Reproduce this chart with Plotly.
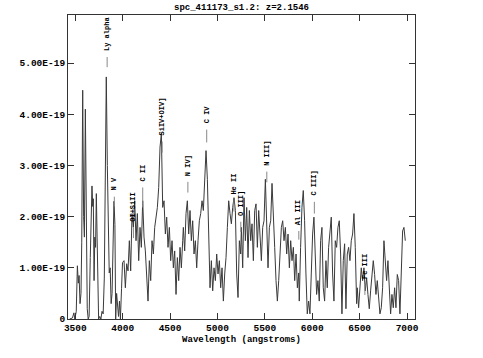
import numpy as np
import plotly.graph_objects as go

# ---------------- data ----------------
z = 2.1546
title_text = "spc_411173_s1.2: z=2.1546"

# flux in units of 1e-19
wave_a = [3440, 3470, 3485, 3495, 3510, 3522, 3532, 3540, 3550, 3560, 3568, 3578, 3588, 3596, 3606,
          3616, 3626, 3636, 3646, 3658, 3668, 3676, 3684, 3690, 3698, 3706, 3714, 3722, 3730, 3738,
          3746, 3758, 3770, 3782, 3794, 3806, 3816, 3827, 3838, 3848, 3858, 3868, 3878, 3888, 3898,
          3908, 3918, 3926, 3936, 3946, 3956, 3966, 3976, 3988, 3998]
flux_a = [0.0, 0.02, 0.12, 0.0, 0.15, 1.04, 0.7, 0.85, 0.3, 0.5, 1.5, 4.47, 2.0, 1.6, 4.1,
          2.0, 0.2, 0.0, 0.05, 1.2, 2.1, 2.6, 2.2, 2.35, 0.75, 1.6, 1.4, 2.45, 1.6, 0.6,
          0.0, 0.05, 0.0, 0.15, 0.1, 0.8, 3.0, 4.73, 3.0, 1.47, 0.9, 1.0, 0.3, 0.5, 1.6,
          2.3, 1.85, 0.0, 0.5, 0.15, 0.05, 0.35, 0.0, 0.6, 1.1]

grid_step = 14.07
start_b = 4014
flux_b = [1.14, 0.61, 1.08, 0.94, 1.53, 0.94, 2.06, 1.79, 2.31, 1.53, 2.06, 1.14, 1.79, 1.4, 2.31,
          1.6, 1.33, 0.88, 0.35, 1.14, 0.75, 1.53, 1.27, 1.79, 1.99, 2.18, 2.57, 3.36, 3.62, 2.18,
          2.31, 1.66, 1.99, 1.4, 1.79, 1.14, 1.53, 1.0, 1.33, 0.48, 1.2, 0.75, 1.4, 1.0, 1.53]
start_c = 4640
flux_c = [1.79, 1.33, 2.06, 2.31, 1.66, 2.12, 1.53, 1.92, 1.27, 1.53, 1.0, 1.53, 1.92, 2.06, 2.31,
          2.12, 2.77, 3.29, 2.73, 1.66, 0.61, 1.14, 0.55, 1.0, 0.75, 1.27, 0.88, 1.14, 0.61, 1.0,
          0.35, 0.88, 1.2, 1.79, 2.31, 2.06, 1.86, 2.18, 2.37, 2.12, 0.88, 0.42, 1.53, 1.27]
start_d = 5252
flux_d = [1.79, 1.0, 2.37, 1.53, 2.18, 1.2, 2.12, 1.53, 1.86, 1.14, 2.12, 2.25, 1.4, 2.12, 1.53,
          1.14, 1.79, 1.92, 2.73, 1.53, 1.0, 1.79, 1.92, 2.65, 1.79, 1.4, 0.75, 0.35, 0.75, 1.33,
          1.79, 1.92, 1.53, 1.79, 1.27, 1.66, 1.0, 1.53, 1.14, 1.4, 0.75, 1.27, 0.61, 0.9]
start_e = 5863
flux_e = [0.35, 1.4, 2.18, 2.51, 1.92, 0.88, 0.1, 0.35, 0.1, 0.88, 1.66, 1.99, 1.27, 0.48, 0.75,
          0.35, 1.53, 1.79, 0.61, 0.35, 1.14, 0.61, 1.4, 1.79, 1.99, 0.88, 0.35, 1.53, 1.4, 1.79,
          1.92, 1.27, 0.1, 1.14, 1.47, 0.2, 1.27, 1.4, 1.14, 1.53, 1.66, 2.06, 1.4, 0.3]
start_f = 6475
flux_f = [0.61, 0.22, 0.75, 1.0, 0.75, 1.0, 0.55, 0.8, 0.48, 0.2, 0.55, 0.8, 1.14, 0.87, 0.48,
          0.75, 0.35, 0.1, 0.22, 0.61, 1.53, 1.14, 0.75, 1.14, 0.55, 0.1, 0.48, 0.22, 0.61, 0.22,
          0.87, 0.75, 0.1, 0.75, 1.72, 1.79, 1.53]

line_names = ["Ly alpha", "N V", "OI+SiII", "C II", "SiIV+OIV]", "N IV]", "C IV",
              "He II", "O III]", "N III]", "Al III", "C III]", "Fe III"]
line_rest = [1216, 1240, 1304, 1335, 1400, 1486, 1549, 1640, 1663, 1750, 1857, 1909, 2078]
# label text bottom (flux units) and tick mark lower end
label_bottom = [5.2, 2.47, 1.86, 2.65, 3.55, 2.76, 3.78, 2.4, 1.98, 2.96, 1.8, 2.37, 0.75]
tick_low = [4.92, 2.2, 1.58, 2.18, 3.25, 2.47, 3.45, 2.1, 1.7, 2.67, 1.55, 2.06, 0.47]

ytick_vals = [0, 1, 2, 3, 4, 5]
ytick_text = ["0", "1.00E-19", "2.00E-19", "3.00E-19", "4.00E-19", "5.00E-19"]
xtick_vals = [3500, 4000, 4500, 5000, 5500, 6000, 6500, 7000]

# ---------------- build ----------------
def grid(start, vals):
    return [start + grid_step * i for i in range(len(vals))]

wave = (list(wave_a) + grid(start_b, flux_b) + grid(start_c, flux_c) + grid(start_d, flux_d)
        + grid(start_e, flux_e) + grid(start_f, flux_f))
flux = list(flux_a) + flux_b + flux_c + flux_d + flux_e + flux_f

FONT = "Liberation Mono"

fig = go.Figure()
fig.add_trace(go.Scatter(x=wave, y=flux, mode="lines",
                         line=dict(color="#3a3a3a", width=1), hoverinfo="skip"))

shapes = []
annotations = []
for name, rest, lb, tl in zip(line_names, line_rest, label_bottom, tick_low):
    obs = rest * (1 + z)
    shapes.append(dict(type="line", xref="x", yref="y", x0=obs, x1=obs, y0=tl, y1=lb - 0.08,
                       line=dict(color="#888888", width=1)))
    annotations.append(dict(x=obs, y=lb, xref="x", yref="y", text=name, showarrow=False,
                            textangle=-90, xanchor="center", yanchor="bottom",
                            font=dict(family=FONT, size=7, color="black", weight="bold")))

fig.update_layout(
    width=483, height=358,
    margin=dict(l=68, r=68, t=15, b=39),
    paper_bgcolor="white", plot_bgcolor="white",
    showlegend=False,
    title=dict(text=title_text, x=0.5, xanchor="center", y=1 - 7 / 358, yanchor="middle",
               yref="container",
               font=dict(family=FONT, size=9, color="black", weight="bold")),
    shapes=shapes, annotations=annotations,
)
fig.update_xaxes(range=[3423, 7084], tickvals=xtick_vals, ticks="inside", ticklen=6,
                 tickcolor="#333", showline=True, linecolor="#333", linewidth=1, mirror="ticks",
                 showgrid=False, zeroline=False,
                 tickfont=dict(family=FONT, size=9.5, color="black", weight="bold"),
                 title=dict(text="Wavelength (angstroms)", standoff=2,
                            font=dict(family=FONT, size=9, color="black", weight="bold")))
fig.update_yaxes(range=[0, 5.94], tickvals=ytick_vals, ticktext=ytick_text, ticks="inside",
                 ticklen=6, tickcolor="#333", showline=True, linecolor="#333", linewidth=1,
                 mirror="ticks", showgrid=False, zeroline=False,
                 tickfont=dict(family=FONT, size=9.5, color="black", weight="bold"))

fig.write_html("out.html", config={"displayModeBar": False},
               post_script="document.body.style.margin='0px';")
